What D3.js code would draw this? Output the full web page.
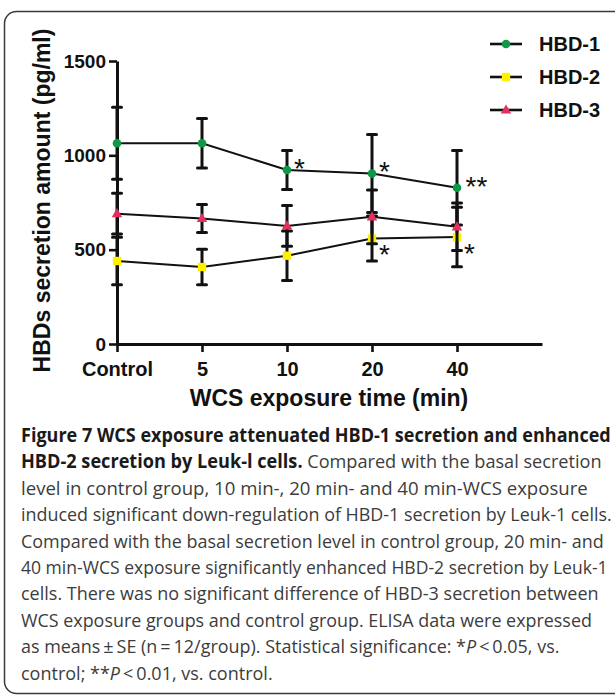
<!DOCTYPE html>
<html>
<head>
<meta charset="utf-8">
<script src="https://cdn.jsdelivr.net/npm/d3@7"></script>
<style>
  html, body { margin: 0; padding: 0; background: #fff; }
  svg { display: block; }
</style>
</head>
<body>
<svg id="chart" width="615" height="696"></svg>
<script>
// ---------------- DATA ----------------
const categories = ["Control", "5", "10", "20", "40"];
const seriesNames = ["HBD-1", "HBD-2", "HBD-3"];
const hbd1Mean = [1064, 1064, 922, 904, 828];
const hbd1SE   = [191, 131, 103, 207, 197];
const hbd2Mean = [440, 408, 468, 559, 567];
const hbd2SE   = [126, 94, 131, 119, 158];
const hbd3Mean = [691, 665, 626, 674, 621];
const hbd3SE   = [108, 74, 108, 142, 126];
const yTicks = [0, 500, 1000, 1500];
const xTitle = "WCS exposure time (min)";
const yTitle = "HBDs secretion amount (pg/ml)";
// significance marks: series, category, label, side (above / below point)
const sigSeries = ["HBD-1", "HBD-1", "HBD-1", "HBD-2", "HBD-2"];
const sigCats   = ["10", "20", "40", "20", "40"];
const sigLabels = ["*", "*", "**", "*", "*"];
const sigSide   = ["up", "up", "up", "down", "down"];

const captionLines = [
  [{t: "Figure 7 WCS exposure attenuated HBD-1 secretion and enhanced", b: true}],
  [{t: "HBD-2 secretion by Leuk-l cells.", b: true}, {t: " Compared with the basal secretion"}],
  [{t: "level in control group, 10 min-, 20 min- and 40 min-WCS exposure"}],
  [{t: "induced significant down-regulation of HBD-1 secretion by Leuk-1 cells."}],
  [{t: "Compared with the basal secretion level in control group, 20 min- and"}],
  [{t: "40 min-WCS exposure significantly enhanced HBD-2 secretion by Leuk-1"}],
  [{t: "cells. There was no significant difference of HBD-3 secretion between"}],
  [{t: "WCS exposure groups and control group. ELISA data were expressed"}],
  [{t: "as means\u2009±\u2009SE (n\u2009=\u200912/group). Statistical significance: *"}, {t: "P", i: true}, {t: "\u2009<\u20090.05, vs."}],
  [{t: "control; **"}, {t: "P", i: true}, {t: "\u2009<\u20090.01, vs. control."}]
];

// ---------------- LAYOUT / STYLE ----------------
const svg = d3.select("#chart");
const axisFont = "'Liberation Sans', Arial, Helvetica, sans-serif";
const colors = {"HBD-1": "#0c9a44", "HBD-2": "#fff000", "HBD-3": "#e4305c"};
const shapes = {"HBD-1": d3.symbolCircle, "HBD-2": d3.symbolSquare, "HBD-3": d3.symbolTriangle};
const symSize = {"HBD-1": 58, "HBD-2": 70, "HBD-3": 48};

const series = [
  {name: "HBD-1", mean: hbd1Mean, se: hbd1SE},
  {name: "HBD-2", mean: hbd2Mean, se: hbd2SE},
  {name: "HBD-3", mean: hbd3Mean, se: hbd3SE}
];

// frame
svg.append("rect")
  .attr("x", 4.5).attr("y", 11.5)
  .attr("width", 640).attr("height", 682)
  .attr("rx", 12).attr("ry", 12)
  .attr("fill", "none").attr("stroke", "#3a3a3a").attr("stroke-width", 1.5);

const x = d3.scalePoint().domain([...categories, "__pad"]).range([117, 542]);
const y = d3.scaleLinear().domain([0, 1500]).range([344, 61]);

// axes
const yAxis = svg.append("g").attr("transform", `translate(${x("Control")},0)`)
  .call(d3.axisLeft(y).tickValues(yTicks).tickFormat(d3.format("d"))
    .tickSize(8).tickPadding(3).tickSizeOuter(0));
const xAxis = svg.append("g").attr("transform", `translate(0,${y(0)})`)
  .call(d3.axisBottom(x).tickValues(categories).tickSize(8).tickPadding(9.5).tickSizeOuter(0));

[xAxis, yAxis].forEach(g => {
  g.select(".domain").attr("stroke", "#111").attr("stroke-width", 3);
  g.selectAll(".tick line").attr("stroke", "#111").attr("stroke-width", 2.6);
  g.selectAll(".tick text").attr("fill", "#111")
    .style("font-family", axisFont).style("font-weight", "bold");
});
yAxis.selectAll(".tick text").style("font-size", "19px");
xAxis.selectAll(".tick text").style("font-size", "20px");

// axis titles
svg.append("text")
  .attr("transform", `translate(50,200.5) rotate(-90)`)
  .attr("text-anchor", "middle")
  .style("font-family", axisFont).style("font-weight", "bold").style("font-size", "23px")
  .attr("fill", "#111")
  .text(yTitle);
svg.append("text")
  .attr("x", 329).attr("y", 406)
  .attr("text-anchor", "middle")
  .style("font-family", axisFont).style("font-weight", "bold").style("font-size", "23px")
  .attr("fill", "#111")
  .text(xTitle);

// series
const capHalf = 4.5;
const line = d3.line().x(d => x(d.cat)).y(d => y(d.v));
series.forEach(s => {
  const pts = categories.map((c, i) => ({cat: c, v: s.mean[i], e: s.se[i]}));
  const g = svg.append("g");
  const eb = g.selectAll(".eb").data(pts).enter().append("g");
  eb.append("line")
    .attr("x1", d => x(d.cat)).attr("x2", d => x(d.cat))
    .attr("y1", d => y(d.v + d.e)).attr("y2", d => y(d.v - d.e))
    .attr("stroke", "#111").attr("stroke-width", 3);
  eb.append("line")
    .attr("x1", d => x(d.cat) - capHalf).attr("x2", d => x(d.cat) + capHalf)
    .attr("y1", d => y(d.v + d.e)).attr("y2", d => y(d.v + d.e))
    .attr("stroke", "#111").attr("stroke-width", 3).attr("stroke-linecap", "round");
  eb.append("line")
    .attr("x1", d => x(d.cat) - capHalf).attr("x2", d => x(d.cat) + capHalf)
    .attr("y1", d => y(d.v - d.e)).attr("y2", d => y(d.v - d.e))
    .attr("stroke", "#111").attr("stroke-width", 3).attr("stroke-linecap", "round");
  g.append("path").datum(pts).attr("d", line)
    .attr("fill", "none").attr("stroke", "#111").attr("stroke-width", 2);
  g.selectAll(".mk").data(pts).enter().append("path")
    .attr("transform", d => `translate(${x(d.cat)},${y(d.v) + (s.name === "HBD-3" ? 0.5 : 0)})`)
    .attr("d", d3.symbol().type(shapes[s.name]).size(symSize[s.name]))
    .attr("fill", colors[s.name]);
});

// significance marks
sigLabels.forEach((lab, k) => {
  const s = series.find(d => d.name === sigSeries[k]);
  const i = categories.indexOf(sigCats[k]);
  const px = x(sigCats[k]), py = y(s.mean[i]);
  const dx = lab.length > 1 ? 19.5 : 12.5;
  const cy = sigSide[k] === "up" ? py - 8 : py + 9.5;
  svg.append("text")
    .attr("x", px + dx).attr("y", cy + 16)
    .attr("text-anchor", "middle")
    .style("font-family", axisFont).style("font-size", "28px")
    .attr("fill", "#111")
    .text(lab);
});

// legend
const legY = [44, 77, 110];
seriesNames.forEach((n, i) => {
  const g = svg.append("g").attr("transform", `translate(0,${legY[i]})`);
  g.append("line").attr("x1", 490).attr("x2", 522).attr("y1", 0).attr("y2", 0)
    .attr("stroke", "#111").attr("stroke-width", 2.6);
  g.append("path").attr("transform", `translate(506,${n === "HBD-3" ? 0.5 : 0})`)
    .attr("d", d3.symbol().type(shapes[n]).size(symSize[n]))
    .attr("fill", colors[n]);
  g.append("text").attr("x", 539).attr("y", 7.2)
    .style("font-family", axisFont).style("font-weight", "bold").style("font-size", "20px")
    .attr("fill", "#111").text(n);
});

// caption: fixed size, each line compressed horizontally to its measured width
const capFont = "'Open Sans', 'Noto Sans', sans-serif";
const capX = 21, capY0 = 442, capDy = 26.4, capSize = 19;
const capRight = [611, 602, 588, 612, 604, 608, 599, 592, 560, null];
const capG = svg.append("g");
const texts = captionLines.map((parts, li) => {
  const t = capG.append("text")
    .attr("x", 0).attr("y", 0)
    .style("font-family", capFont).style("font-size", capSize + "px")
    .style("white-space", "pre");
  parts.forEach(p => {
    t.append("tspan").text(p.t)
      .style("font-weight", p.b ? "700" : "400")
      .style("font-style", p.i ? "italic" : "normal")
      .attr("fill", p.b ? "#1a1a1a" : "#3c3c3c");
  });
  return t;
});
const scales = texts.map((t, i) => capRight[i]
  ? (capRight[i] - capX) / t.node().getComputedTextLength() : null);
const meanScale = d3.mean(scales.filter(s => s));
texts.forEach((t, i) => {
  const sx = scales[i] || meanScale;
  t.attr("transform", `translate(${capX},${capY0 + i * capDy}) scale(${sx},1)`);
});
</script>
</body>
</html>
